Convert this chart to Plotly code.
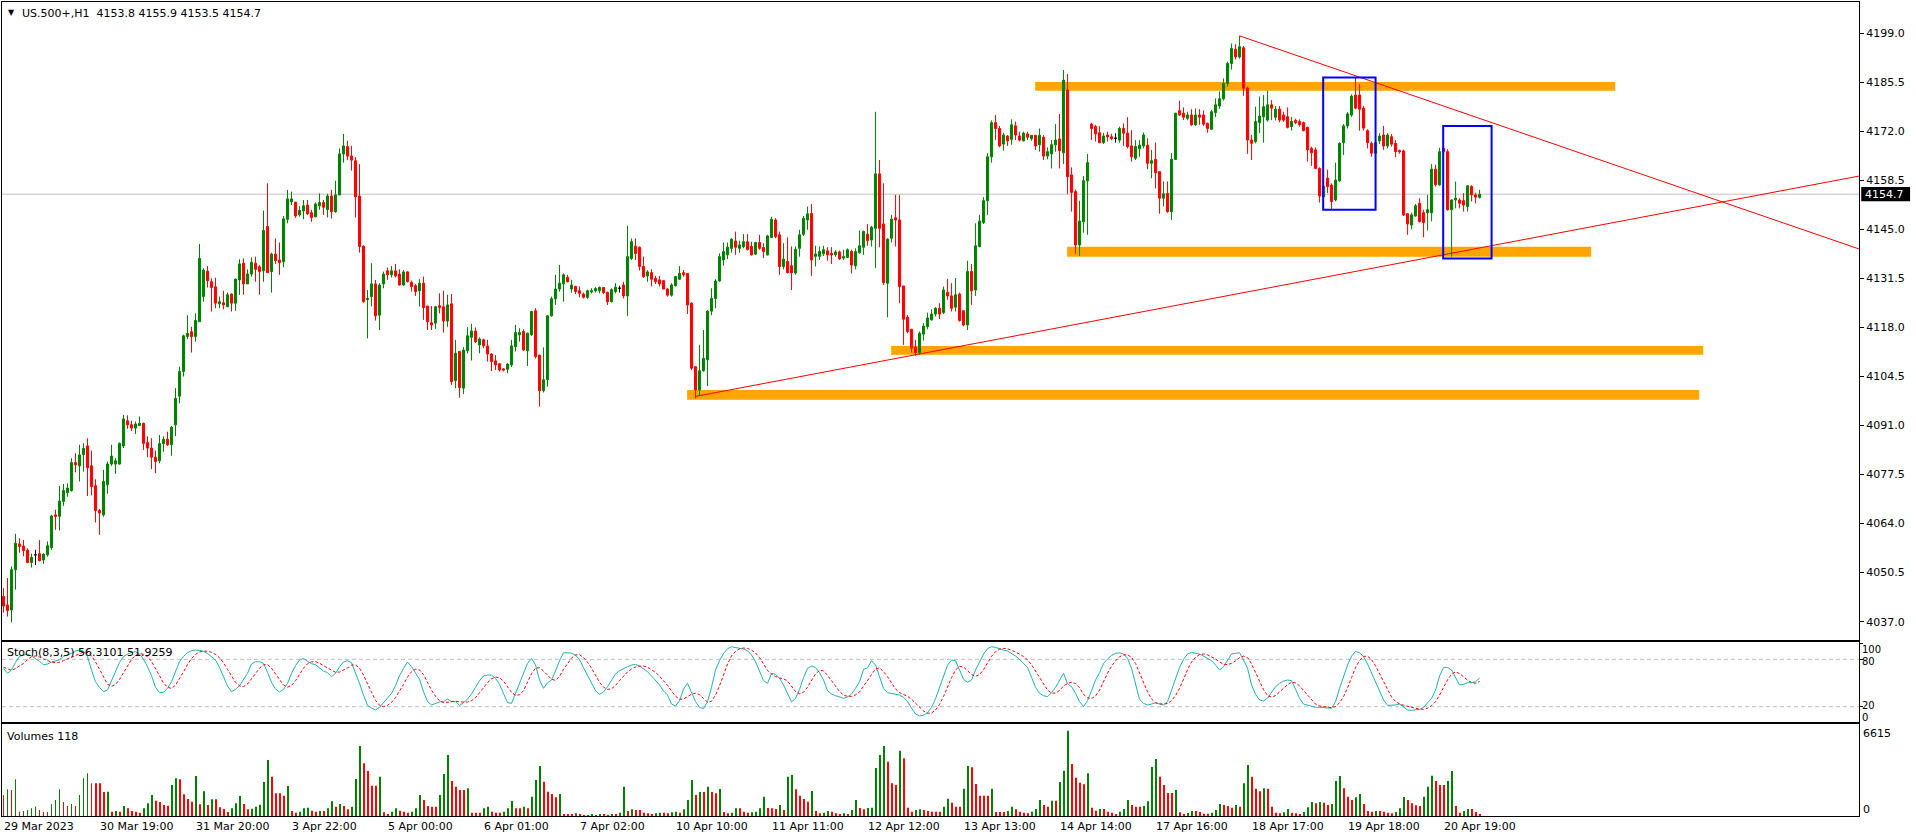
import plotly.graph_objects as go

# H1 bars of US.500+, bar 0 = first visible bar (29 Mar 2023)
opens = [
    4043.9, 4041.6, 4040.2, 4051.3, 4058.4, 4057.8, 4056.7, 4053.3, 4055.4, 4055.7,
    4054.0, 4055.4, 4057.4, 4066.4, 4066.0, 4070.1, 4072.5, 4073.1, 4080.8, 4079.9,
    4083.0, 4085.4, 4079.9, 4074.4, 4067.6, 4066.4, 4074.7, 4080.4, 4080.4, 4080.4,
    4085.4, 4092.3, 4091.2, 4090.3, 4091.0, 4091.6, 4086.3, 4084.8, 4082.3, 4081.3,
    4086.0, 4087.2, 4085.7, 4091.2, 4099.1, 4105.9, 4115.5, 4116.8, 4115.5, 4119.6,
    4126.5, 4133.5, 4130.6, 4129.2, 4124.5, 4124.8, 4123.7, 4127.2, 4124.7, 4131.1,
    4135.7, 4130.0, 4132.7, 4135.7, 4134.7, 4133.6, 4145.8, 4133.4, 4138.2, 4136.6,
    4136.1, 4147.8, 4152.6, 4152.5, 4149.0, 4150.1, 4151.7, 4149.6, 4148.5, 4151.5,
    4152.4, 4150.5, 4154.2, 4149.9, 4154.5, 4165.8, 4167.8, 4165.2, 4163.9, 4154.2,
    4140.4, 4125.7, 4126.5, 4130.0, 4121.4, 4130.0, 4133.6, 4132.5, 4133.6, 4132.7,
    4129.7, 4133.3, 4130.4, 4129.5, 4128.1, 4130.2, 4123.9, 4119.3, 4119.2, 4124.0,
    4123.7, 4119.8, 4124.5, 4103.4, 4111.4, 4101.3, 4111.6, 4115.3, 4117.0, 4113.2,
    4114.6, 4112.9, 4110.7, 4108.8, 4108.0, 4106.6, 4106.5, 4107.7, 4112.7, 4116.0,
    4116.9, 4111.6, 4116.0, 4122.6, 4110.4, 4100.6, 4103.6, 4121.2, 4125.9, 4128.6,
    4130.0, 4131.8, 4128.6, 4129.3, 4128.1, 4127.2, 4126.3, 4127.8, 4128.1, 4128.1,
    4129.0, 4127.6, 4125.1, 4127.9, 4128.8, 4129.7, 4126.7, 4137.0, 4140.4, 4140.1,
    4134.8, 4132.2, 4133.1, 4131.5, 4131.1, 4130.9, 4128.6, 4126.9, 4129.5, 4131.3,
    4133.1, 4132.9, 4124.7, 4107.2, 4100.8, 4106.1, 4109.1, 4122.5, 4126.0, 4130.8,
    4136.6, 4138.0, 4139.8, 4141.8, 4139.8, 4140.3, 4141.6, 4140.3, 4138.2, 4141.4,
    4140.0, 4138.0, 4142.8, 4147.6, 4143.5, 4134.8, 4136.2, 4135.0, 4133.0, 4139.8,
    4143.7, 4147.6, 4149.4, 4137.6, 4137.6, 4138.3, 4139.1, 4138.4, 4138.0, 4138.8,
    4137.1, 4137.3, 4138.9, 4135.0, 4138.6, 4140.1, 4143.7, 4142.1, 4145.3, 4160.3,
    4146.5, 4130.2, 4142.6, 4148.2, 4147.6, 4129.4, 4120.8, 4117.5, 4112.6, 4111.1,
    4116.2, 4118.2, 4120.1, 4121.7, 4123.3, 4122.1, 4127.7, 4126.7, 4123.6, 4127.2,
    4122.6, 4118.7, 4133.4, 4128.3, 4140.3, 4146.9, 4152.9, 4165.0, 4174.4, 4172.8,
    4168.5, 4170.7, 4169.8, 4173.5, 4170.7, 4169.4, 4171.3, 4170.0, 4170.9, 4168.3,
    4170.4, 4165.2, 4165.8, 4168.3, 4169.9, 4166.1, 4183.4, 4160.0, 4155.4, 4140.7,
    4147.1, 4158.4, 4174.0, 4173.3, 4171.6, 4168.9, 4171.0, 4170.5, 4170.1, 4169.6,
    4172.8, 4171.5, 4168.0, 4164.6, 4167.2, 4168.0, 4168.2, 4163.2, 4164.3, 4160.9,
    4153.6, 4154.9, 4149.9, 4164.3, 4177.7, 4177.0, 4175.6, 4176.5, 4173.8, 4176.5,
    4176.5, 4174.2, 4172.6, 4177.2, 4179.0, 4181.0, 4185.2, 4190.7, 4194.6, 4192.5,
    4195.0, 4183.9, 4169.6, 4169.2, 4174.4, 4176.0, 4175.1, 4179.3, 4175.9, 4178.1,
    4176.5, 4176.0, 4173.3, 4175.0, 4174.7, 4174.4, 4173.1, 4167.3, 4166.9, 4161.8,
    4154.0, 4159.1, 4157.2, 4153.1, 4158.4, 4168.9, 4173.5, 4176.5, 4182.0, 4182.0,
    4178.4, 4172.2, 4168.7, 4166.0, 4169.4, 4171.0, 4168.0, 4170.5, 4168.7, 4166.7,
    4166.6, 4149.3, 4146.2, 4148.7, 4152.2, 4149.6, 4149.6, 4149.6, 4161.6, 4157.3,
    4167.3, 4166.4, 4150.4, 4153.1, 4153.1, 4152.9, 4151.3, 4156.8, 4154.5, 4153.8,
]
highs = [
    4046.2, 4049.0, 4052.2, 4061.2, 4060.0, 4059.5, 4057.2, 4055.7, 4056.8, 4059.5,
    4055.8, 4059.1, 4066.4, 4067.8, 4074.4, 4074.9, 4075.1, 4082.0, 4083.4, 4085.7,
    4086.1, 4087.5, 4084.1, 4076.2, 4068.0, 4078.8, 4081.1, 4085.7, 4082.0, 4086.3,
    4093.9, 4093.8, 4092.3, 4092.1, 4093.5, 4091.8, 4088.0, 4087.5, 4084.1, 4088.4,
    4088.0, 4089.3, 4090.9, 4101.3, 4107.2, 4116.0, 4121.4, 4118.2, 4121.9, 4141.0,
    4134.3, 4134.9, 4131.5, 4131.7, 4126.5, 4128.1, 4127.6, 4127.4, 4131.5, 4136.8,
    4137.0, 4134.0, 4137.3, 4137.5, 4135.2, 4150.2, 4157.7, 4138.6, 4142.5, 4141.4,
    4148.7, 4155.9, 4155.4, 4152.6, 4151.4, 4153.1, 4153.1, 4150.4, 4152.4, 4154.9,
    4153.1, 4154.8, 4155.9, 4158.4, 4167.3, 4171.3, 4169.4, 4168.0, 4164.9, 4163.0,
    4140.6, 4128.3, 4135.7, 4131.1, 4130.2, 4133.4, 4134.5, 4134.9, 4135.5, 4134.0,
    4133.8, 4133.5, 4130.9, 4130.0, 4131.3, 4132.0, 4124.0, 4123.9, 4123.9, 4127.4,
    4128.1, 4127.0, 4127.2, 4114.6, 4111.6, 4112.6, 4118.1, 4119.0, 4118.0, 4115.3,
    4114.9, 4114.6, 4110.9, 4110.4, 4108.2, 4106.8, 4108.2, 4114.6, 4118.7, 4117.8,
    4117.5, 4116.6, 4122.6, 4123.3, 4110.5, 4112.5, 4121.4, 4126.5, 4132.5, 4135.2,
    4132.9, 4132.5, 4131.1, 4129.5, 4129.3, 4127.6, 4128.4, 4128.8, 4129.1, 4129.3,
    4129.1, 4127.9, 4128.8, 4130.2, 4129.5, 4130.6, 4146.0, 4142.5, 4142.5, 4140.3,
    4137.5, 4133.8, 4134.0, 4132.2, 4132.2, 4131.1, 4128.8, 4130.2, 4132.2, 4134.9,
    4133.8, 4133.0, 4124.9, 4107.3, 4113.2, 4117.3, 4122.8, 4128.8, 4131.3, 4138.4,
    4141.4, 4141.4, 4142.6, 4144.4, 4141.9, 4143.7, 4143.7, 4141.6, 4141.6, 4143.5,
    4141.2, 4143.5, 4148.5, 4148.1, 4144.4, 4141.2, 4142.8, 4140.3, 4140.3, 4144.9,
    4148.7, 4151.3, 4152.0, 4140.5, 4140.3, 4140.5, 4140.1, 4140.1, 4139.3, 4139.2,
    4139.4, 4139.8, 4139.4, 4139.8, 4144.7, 4144.7, 4146.5, 4146.0, 4177.4, 4164.1,
    4157.7, 4142.6, 4149.0, 4154.5, 4154.5, 4129.5, 4121.5, 4117.6, 4114.6, 4116.9,
    4119.2, 4122.1, 4123.0, 4123.6, 4124.7, 4129.3, 4131.4, 4130.2, 4131.6, 4127.6,
    4122.7, 4136.4, 4135.5, 4146.7, 4149.0, 4153.9, 4166.0, 4175.0, 4176.5, 4173.5,
    4171.6, 4171.0, 4175.3, 4174.7, 4171.9, 4171.9, 4171.9, 4171.0, 4171.0, 4172.8,
    4171.0, 4167.6, 4169.6, 4174.0, 4176.8, 4188.9, 4187.8, 4162.1, 4156.0, 4152.9,
    4159.7, 4165.8, 4174.4, 4173.8, 4173.5, 4171.6, 4171.9, 4171.3, 4171.5, 4173.3,
    4174.2, 4175.9, 4172.4, 4169.6, 4169.6, 4171.7, 4170.1, 4166.9, 4168.9, 4161.0,
    4158.2, 4158.2, 4166.0, 4177.1, 4180.4, 4178.6, 4177.4, 4178.1, 4178.3, 4178.1,
    4177.7, 4174.4, 4177.9, 4181.1, 4183.0, 4186.6, 4191.2, 4196.2, 4196.0, 4198.3,
    4195.5, 4184.3, 4171.0, 4178.8, 4181.6, 4182.0, 4183.2, 4180.6, 4179.0, 4179.0,
    4177.4, 4178.6, 4176.0, 4175.5, 4175.3, 4174.7, 4173.3, 4167.8, 4167.6, 4162.1,
    4157.2, 4161.5, 4157.7, 4163.4, 4169.0, 4174.0, 4177.3, 4182.2, 4186.9, 4185.0,
    4179.0, 4172.6, 4169.2, 4169.6, 4171.5, 4173.5, 4171.5, 4171.3, 4169.6, 4167.0,
    4167.0, 4149.5, 4149.6, 4152.0, 4153.6, 4150.4, 4154.5, 4163.0, 4162.8, 4167.5,
    4168.2, 4167.1, 4153.3, 4158.2, 4153.6, 4155.0, 4157.2, 4157.2, 4155.1, 4155.9,
]
lows = [
    4039.5, 4038.4, 4036.8, 4045.8, 4056.0, 4055.0, 4053.1, 4051.9, 4052.6, 4053.6,
    4052.9, 4054.9, 4056.8, 4062.3, 4062.1, 4068.9, 4071.4, 4072.8, 4078.1, 4075.6,
    4078.3, 4071.6, 4071.8, 4064.3, 4060.9, 4065.9, 4072.2, 4079.9, 4077.7, 4080.2,
    4084.8, 4090.1, 4089.5, 4088.7, 4090.9, 4084.3, 4082.3, 4079.0, 4077.9, 4080.6,
    4083.8, 4085.4, 4082.7, 4088.1, 4097.1, 4104.5, 4114.8, 4111.1, 4114.1, 4119.6,
    4125.1, 4129.0, 4122.4, 4123.3, 4123.3, 4123.0, 4123.6, 4122.4, 4122.6, 4127.0,
    4127.0, 4130.0, 4132.0, 4130.6, 4127.0, 4130.6, 4133.0, 4127.6, 4135.5, 4132.5,
    4134.6, 4146.7, 4151.7, 4148.2, 4148.5, 4147.8, 4149.0, 4147.1, 4148.3, 4150.4,
    4149.0, 4148.3, 4148.0, 4149.6, 4154.4, 4163.4, 4164.1, 4161.2, 4148.3, 4138.6,
    4124.8, 4115.0, 4123.8, 4119.9, 4117.3, 4128.8, 4131.1, 4131.8, 4131.8, 4129.5,
    4129.5, 4130.4, 4127.9, 4126.7, 4123.8, 4120.1, 4117.3, 4117.3, 4117.6, 4121.9,
    4116.6, 4118.2, 4102.2, 4101.3, 4098.7, 4099.7, 4110.9, 4108.9, 4113.7, 4110.9,
    4112.3, 4108.6, 4106.0, 4106.3, 4105.9, 4105.9, 4105.4, 4107.1, 4111.4, 4114.1,
    4111.6, 4107.4, 4115.7, 4109.5, 4096.2, 4100.1, 4101.7, 4121.0, 4124.2, 4127.9,
    4125.1, 4130.4, 4127.6, 4127.2, 4126.3, 4126.0, 4125.8, 4127.4, 4127.6, 4127.4,
    4127.2, 4124.2, 4124.9, 4127.4, 4127.6, 4126.0, 4121.2, 4136.6, 4136.6, 4133.7,
    4131.7, 4130.6, 4129.3, 4130.0, 4129.3, 4128.5, 4126.5, 4126.5, 4129.3, 4131.1,
    4132.0, 4121.7, 4106.3, 4098.5, 4099.1, 4105.8, 4101.9, 4121.4, 4123.3, 4130.6,
    4135.0, 4136.8, 4138.6, 4138.0, 4138.6, 4139.8, 4139.2, 4137.8, 4138.0, 4139.4,
    4137.1, 4137.8, 4142.6, 4142.6, 4132.5, 4134.0, 4132.9, 4128.3, 4132.5, 4137.5,
    4143.2, 4144.9, 4132.2, 4134.8, 4136.6, 4137.7, 4136.4, 4135.5, 4137.5, 4136.6,
    4136.6, 4137.1, 4132.9, 4134.0, 4138.3, 4138.0, 4140.5, 4140.3, 4134.3, 4140.1,
    4129.7, 4120.8, 4141.4, 4140.3, 4124.7, 4113.2, 4116.4, 4111.1, 4110.2, 4110.5,
    4114.4, 4117.5, 4119.9, 4121.0, 4120.3, 4121.7, 4125.6, 4122.4, 4122.4, 4119.6,
    4118.3, 4117.3, 4124.2, 4126.7, 4140.1, 4146.5, 4149.0, 4163.4, 4169.6, 4167.6,
    4166.7, 4168.0, 4168.3, 4169.6, 4169.2, 4169.2, 4169.6, 4169.4, 4166.9, 4166.4,
    4164.1, 4164.3, 4161.8, 4166.4, 4161.8, 4163.0, 4154.8, 4149.9, 4138.3, 4137.7,
    4144.1, 4143.5, 4169.6, 4169.2, 4168.7, 4168.5, 4169.2, 4169.6, 4168.9, 4168.9,
    4168.0, 4167.3, 4163.7, 4164.1, 4165.0, 4167.3, 4161.6, 4159.1, 4156.3, 4149.3,
    4151.3, 4149.6, 4147.6, 4164.1, 4176.2, 4175.1, 4175.1, 4173.5, 4173.5, 4173.8,
    4173.5, 4171.6, 4172.4, 4175.9, 4178.2, 4180.5, 4184.3, 4189.0, 4191.8, 4192.0,
    4181.8, 4165.8, 4164.1, 4168.7, 4171.5, 4168.9, 4174.7, 4175.1, 4175.0, 4174.5,
    4174.6, 4172.8, 4172.2, 4174.0, 4173.3, 4172.0, 4163.7, 4162.5, 4161.6, 4152.4,
    4153.6, 4155.0, 4150.5, 4152.7, 4158.0, 4165.5, 4172.8, 4176.0, 4178.1, 4172.2,
    4172.2, 4167.3, 4165.0, 4165.5, 4168.5, 4166.9, 4167.3, 4167.8, 4164.9, 4165.8,
    4148.7, 4143.5, 4145.0, 4148.5, 4146.9, 4142.8, 4144.7, 4147.2, 4156.8, 4157.0,
    4165.5, 4150.2, 4137.5, 4150.8, 4150.8, 4149.9, 4149.9, 4152.7, 4152.2, 4153.5,
]
closes = [
    4041.3, 4040.1, 4051.3, 4058.6, 4057.7, 4056.6, 4053.3, 4054.7, 4055.4, 4053.8,
    4055.6, 4057.9, 4066.1, 4066.0, 4070.2, 4073.1, 4073.8, 4080.8, 4080.2, 4082.9,
    4084.7, 4079.4, 4074.2, 4067.6, 4066.9, 4075.6, 4080.4, 4082.6, 4081.3, 4086.1,
    4092.8, 4091.2, 4090.3, 4091.4, 4091.6, 4086.1, 4084.8, 4082.3, 4081.1, 4086.0,
    4087.2, 4085.7, 4090.5, 4098.5, 4105.9, 4115.7, 4116.4, 4115.5, 4119.9, 4137.0,
    4133.8, 4130.9, 4129.0, 4124.7, 4125.1, 4124.2, 4127.0, 4124.7, 4131.3, 4135.5,
    4130.0, 4132.7, 4135.9, 4134.0, 4133.4, 4144.7, 4133.1, 4138.2, 4136.4, 4135.9,
    4147.9, 4153.4, 4153.4, 4148.7, 4150.2, 4151.5, 4149.3, 4148.3, 4152.0, 4152.4,
    4151.1, 4154.2, 4149.9, 4154.5, 4165.8, 4168.0, 4165.2, 4164.1, 4154.0, 4140.3,
    4125.1, 4126.0, 4130.0, 4121.2, 4129.7, 4132.7, 4132.5, 4133.6, 4132.2, 4129.7,
    4133.3, 4130.6, 4129.3, 4127.9, 4130.2, 4123.5, 4119.6, 4118.7, 4123.7, 4123.5,
    4119.8, 4124.2, 4103.1, 4110.9, 4101.5, 4111.8, 4115.7, 4117.0, 4114.1, 4114.8,
    4113.0, 4110.7, 4108.6, 4107.7, 4106.3, 4106.3, 4107.9, 4112.9, 4116.6, 4116.6,
    4111.8, 4116.4, 4122.4, 4110.0, 4100.6, 4103.6, 4121.2, 4125.9, 4128.6, 4130.2,
    4132.5, 4130.6, 4129.7, 4127.9, 4127.4, 4126.3, 4128.1, 4128.1, 4128.7, 4129.0,
    4127.6, 4125.1, 4128.4, 4129.1, 4128.8, 4126.7, 4137.5, 4141.6, 4138.4, 4134.8,
    4132.0, 4133.3, 4131.3, 4130.6, 4130.0, 4128.6, 4126.9, 4129.7, 4132.0, 4132.9,
    4132.5, 4124.2, 4106.8, 4100.8, 4106.1, 4109.5, 4122.5, 4126.0, 4130.8, 4137.5,
    4138.9, 4140.1, 4142.3, 4140.1, 4140.7, 4141.6, 4139.5, 4138.0, 4141.4, 4139.8,
    4138.9, 4143.2, 4147.8, 4143.0, 4134.8, 4136.8, 4133.1, 4133.1, 4139.5, 4143.5,
    4148.1, 4149.3, 4136.6, 4138.2, 4138.9, 4139.4, 4138.0, 4138.0, 4138.8, 4136.9,
    4137.5, 4139.4, 4135.2, 4138.9, 4140.5, 4144.4, 4141.9, 4145.6, 4160.3, 4145.3,
    4130.4, 4142.3, 4147.8, 4147.6, 4129.3, 4120.3, 4116.9, 4112.3, 4111.1, 4116.4,
    4118.4, 4120.6, 4121.7, 4123.3, 4121.7, 4128.3, 4126.7, 4123.3, 4127.0, 4119.9,
    4118.7, 4133.4, 4128.1, 4140.5, 4147.3, 4152.9, 4165.0, 4174.4, 4172.8, 4168.0,
    4171.0, 4169.4, 4173.8, 4171.0, 4169.6, 4171.5, 4170.4, 4170.9, 4168.0, 4170.9,
    4165.2, 4166.4, 4168.3, 4169.6, 4166.7, 4186.1, 4159.5, 4155.2, 4140.7, 4147.3,
    4158.4, 4163.4, 4172.8, 4171.3, 4168.9, 4170.7, 4170.5, 4170.0, 4170.1, 4172.8,
    4171.5, 4167.8, 4165.0, 4167.8, 4168.2, 4171.0, 4163.2, 4163.9, 4160.6, 4153.6,
    4154.8, 4149.9, 4164.3, 4177.0, 4176.5, 4175.9, 4176.5, 4173.8, 4176.5, 4175.9,
    4174.0, 4172.8, 4177.4, 4179.3, 4181.0, 4185.2, 4190.7, 4194.8, 4192.5, 4195.3,
    4183.9, 4169.6, 4168.7, 4174.7, 4176.2, 4178.8, 4179.3, 4178.4, 4178.1, 4175.1,
    4175.1, 4173.1, 4174.7, 4174.4, 4173.8, 4172.2, 4166.9, 4166.1, 4161.8, 4154.2,
    4156.8, 4156.8, 4152.7, 4158.6, 4168.7, 4173.5, 4176.8, 4181.7, 4178.4, 4178.1,
    4172.9, 4168.9, 4166.0, 4168.9, 4170.7, 4168.0, 4171.0, 4168.5, 4166.4, 4166.4,
    4149.0, 4146.5, 4149.0, 4151.5, 4147.2, 4146.9, 4150.4, 4161.6, 4157.3, 4166.4,
    4166.4, 4150.4, 4153.1, 4153.6, 4152.2, 4151.7, 4157.0, 4154.5, 4153.9, 4154.7,
]

# Stochastic (8,3,5): main line and signal line
stoch_main = [
    68.6, 62.3, 66.5, 76.2, 83.8, 85.5, 86.7, 84.2, 81.2, 77.4,
    73.2, 74.1, 76.6, 77.9, 79.5, 83.8, 85.5, 87.6, 90.5, 91.8,
    90.5, 83.4, 66.5, 51.7, 44.5, 39.0, 41.2, 52.5, 63.9, 76.2,
    83.4, 86.7, 88.8, 89.7, 86.7, 80.4, 70.7, 59.3, 44.5, 37.8,
    38.2, 43.3, 51.7, 65.6, 77.0, 83.8, 88.4, 90.9, 91.8, 91.4,
    90.1, 87.6, 83.4, 79.1, 69.8, 58.0, 46.2, 39.0, 42.0, 46.6,
    53.8, 62.3, 74.1, 77.0, 77.0, 74.9, 63.5, 50.9, 42.4, 38.6,
    42.0, 49.6, 62.3, 72.0, 79.1, 81.2, 77.4, 74.5, 73.2, 69.4,
    65.2, 63.1, 58.0, 62.3, 70.7, 76.6, 78.3, 75.8, 63.1, 49.6,
    34.4, 21.7, 18.4, 15.8, 19.2, 25.1, 29.8, 36.9, 46.6, 59.3,
    68.6, 76.6, 70.7, 62.3, 54.7, 39.0, 26.4, 22.2, 24.3, 26.0,
    26.4, 29.8, 26.4, 26.4, 21.7, 25.1, 29.8, 36.1, 44.5, 53.0,
    58.9, 60.1, 60.1, 55.9, 48.3, 36.9, 25.1, 24.3, 36.9, 51.7,
    64.4, 74.9, 81.2, 72.8, 53.8, 43.3, 50.4, 53.8, 65.6, 78.3,
    88.4, 88.4, 88.0, 85.0, 80.0, 69.4, 59.7, 49.6, 40.3, 35.7,
    38.6, 45.4, 53.8, 61.4, 65.6, 68.6, 70.7, 72.8, 73.6, 71.5,
    68.2, 64.4, 58.9, 53.8, 47.5, 39.9, 34.8, 23.4, 20.9, 27.7,
    42.4, 49.6, 39.0, 26.4, 19.2, 17.5, 26.4, 44.5, 66.5, 78.3,
    87.6, 93.5, 96.0, 95.2, 94.3, 93.0, 90.9, 85.5, 77.0, 64.4,
    53.0, 49.6, 62.3, 61.0, 55.9, 47.5, 36.1, 26.0, 30.6, 42.0,
    56.8, 68.6, 71.5, 69.8, 63.1, 53.8, 40.3, 36.1, 34.0, 32.3,
    30.6, 32.3, 36.1, 43.3, 51.7, 67.3, 69.4, 78.3, 72.8, 58.0,
    43.3, 37.8, 36.9, 36.1, 34.8, 31.9, 26.4, 18.0, 10.8, 8.2,
    9.1, 12.5, 19.2, 30.2, 43.7, 58.9, 72.8, 79.1, 78.3, 66.5,
    54.7, 50.9, 53.8, 66.5, 77.0, 86.7, 93.5, 96.0, 95.2, 93.0,
    91.8, 90.5, 87.6, 84.2, 80.0, 74.9, 69.8, 57.2, 44.5, 36.9,
    34.0, 32.7, 37.8, 44.5, 53.8, 62.3, 48.8, 45.4, 36.9, 26.4,
    20.1, 27.7, 40.3, 53.8, 63.1, 74.9, 80.4, 85.0, 87.6, 88.4,
    86.7, 81.2, 68.6, 49.6, 29.3, 24.3, 22.2, 23.4, 25.1, 23.4,
    22.2, 26.4, 41.2, 57.2, 69.8, 80.0, 86.7, 88.8, 87.6, 86.7,
    84.2, 80.8, 78.3, 72.8, 66.5, 70.7, 78.3, 86.7, 87.6, 88.4,
    79.1, 68.6, 47.5, 35.7, 28.5, 27.2, 31.0, 38.6, 45.4, 49.6,
    52.5, 53.8, 53.0, 42.0, 30.6, 23.4, 22.2, 20.5, 19.2, 19.2,
    19.2, 18.4, 18.0, 26.4, 43.3, 58.0, 72.8, 84.2, 90.1, 88.4,
    83.4, 74.1, 62.3, 50.4, 38.6, 28.5, 21.7, 21.7, 22.2, 23.4,
    20.1, 15.8, 15.4, 15.8, 16.7, 19.2, 24.3, 30.6, 41.2, 58.9,
    69.8, 69.8, 66.5, 55.9, 47.5, 48.3, 50.4, 50.4, 51.7, 56.3,
]
stoch_signal = [
    70.0, 67.5, 66.0, 68.4, 71.5, 74.9, 79.7, 83.3, 84.3, 83.0,
    80.5, 78.0, 76.5, 75.8, 76.3, 78.4, 80.7, 82.9, 85.4, 87.8,
    89.2, 88.8, 84.5, 76.8, 67.3, 57.0, 48.6, 45.8, 48.2, 54.6,
    63.4, 72.5, 79.8, 85.0, 87.1, 86.5, 83.3, 77.4, 68.3, 58.5,
    50.1, 44.6, 43.1, 47.3, 55.2, 64.3, 73.3, 81.1, 86.4, 89.3,
    90.5, 90.4, 88.9, 86.3, 82.0, 75.6, 67.3, 58.4, 51.0, 46.4,
    45.5, 48.7, 55.8, 62.8, 68.8, 73.1, 73.3, 68.7, 61.7, 54.1,
    47.5, 44.7, 47.0, 52.9, 61.0, 68.8, 74.4, 76.8, 77.1, 75.1,
    71.9, 69.1, 65.8, 63.6, 63.9, 66.1, 69.2, 72.7, 72.9, 68.7,
    60.2, 48.9, 37.4, 28.0, 21.9, 20.0, 21.7, 25.4, 31.5, 39.5,
    48.2, 57.6, 64.4, 67.5, 66.6, 60.7, 50.6, 40.9, 33.3, 27.6,
    25.1, 25.7, 26.6, 27.0, 26.1, 25.9, 25.9, 27.8, 31.4, 37.7,
    44.5, 50.5, 55.3, 57.6, 56.7, 52.3, 45.3, 38.1, 34.3, 35.0,
    40.5, 50.4, 61.8, 69.0, 69.4, 65.2, 60.3, 54.8, 53.4, 58.3,
    67.3, 74.9, 81.7, 85.6, 86.0, 82.2, 76.4, 68.7, 59.8, 50.9,
    44.8, 41.9, 42.8, 47.0, 53.0, 59.0, 64.0, 67.8, 70.3, 71.4,
    71.4, 70.1, 67.3, 63.4, 58.6, 52.9, 47.0, 39.9, 33.3, 29.3,
    29.8, 32.8, 35.9, 37.0, 35.3, 30.3, 25.7, 26.8, 34.8, 46.6,
    60.7, 74.1, 84.4, 90.1, 93.3, 94.4, 93.9, 91.8, 88.1, 82.2,
    74.2, 65.9, 61.3, 58.1, 56.4, 55.3, 52.6, 45.3, 39.2, 36.4,
    38.3, 44.8, 53.9, 61.7, 66.0, 65.4, 59.7, 52.6, 45.5, 39.3,
    34.7, 33.1, 33.1, 34.9, 38.8, 46.1, 53.6, 62.0, 67.9, 69.2,
    64.4, 58.0, 49.8, 42.4, 37.8, 35.5, 33.2, 29.4, 24.4, 19.1,
    14.5, 11.7, 12.0, 15.8, 22.9, 32.9, 45.0, 56.9, 66.6, 71.1,
    70.3, 65.9, 60.8, 58.5, 60.6, 67.0, 75.5, 83.9, 89.7, 92.9,
    93.9, 93.3, 91.6, 89.4, 86.8, 83.4, 79.3, 73.2, 65.3, 56.7,
    48.5, 41.1, 37.2, 37.2, 40.6, 46.2, 49.4, 51.0, 49.4, 44.0,
    35.5, 31.3, 30.3, 33.7, 41.0, 52.0, 62.5, 71.4, 78.2, 83.3,
    85.6, 85.8, 82.5, 74.9, 63.1, 50.6, 38.8, 29.8, 24.9, 23.7,
    23.3, 24.1, 27.7, 34.1, 43.4, 54.9, 67.0, 76.5, 82.6, 86.0,
    86.8, 85.6, 83.5, 80.6, 76.5, 73.8, 73.3, 75.0, 78.0, 82.3,
    84.0, 82.1, 74.2, 63.9, 51.9, 41.5, 34.0, 32.2, 34.1, 38.4,
    43.4, 48.0, 50.9, 50.2, 46.4, 40.6, 34.2, 27.7, 23.2, 20.9,
    20.1, 19.3, 18.8, 20.2, 25.1, 32.8, 43.7, 56.9, 69.7, 78.7,
    83.8, 84.0, 79.7, 71.7, 61.8, 50.8, 40.3, 32.2, 26.5, 23.5,
    21.8, 20.6, 19.4, 18.1, 16.8, 16.6, 18.3, 21.3, 26.4, 34.8,
    45.0, 54.1, 61.2, 64.2, 61.9, 57.6, 53.7, 50.5, 49.7, 51.9,
]

# tick volumes
volumes = [
    1628, 2067, 2016, 2842, 336, 388, 465, 594, 724, 465,
    336, 310, 930, 1240, 2067, 1085, 775, 930, 775, 1628,
    2920, 3308, 2532, 2532, 2532, 1860, 1886, 336, 388, 336,
    775, 594, 388, 336, 258, 594, 982, 1628, 1189, 1085,
    853, 801, 2403, 2920, 2842, 1680, 1318, 1111, 3101, 904,
    1912, 853, 1292, 1292, 672, 543, 310, 594, 982, 1550,
    930, 517, 568, 724, 879, 2636, 4341, 3049, 1757, 1757,
    1576, 2326, 388, 258, 336, 594, 646, 413, 336, 388,
    388, 594, 1137, 724, 930, 775, 517, 724, 2868, 5426,
    4083, 3488, 2351, 2351, 3049, 284, 155, 336, 594, 413,
    336, 258, 336, 594, 1628, 1240, 775, 724, 724, 1628,
    3256, 4729, 2713, 2274, 2016, 2016, 2145, 258, 258, 258,
    594, 724, 336, 258, 258, 336, 594, 1163, 594, 594,
    724, 594, 1499, 2791, 3876, 2662, 1886, 1705, 1447, 1705,
    155, 155, 129, 207, 129, 52, 52, 78, 26, 78,
    78, 52, 78, 78, 258, 2274, 388, 517, 465, 465,
    258, 207, 129, 207, 258, 258, 207, 284, 336, 258,
    517, 1240, 2791, 1628, 1860, 1860, 2274, 1860, 1757, 2093,
    310, 207, 258, 594, 594, 336, 258, 284, 336, 594,
    1499, 620, 594, 543, 853, 465, 3049, 3178, 2067, 1576,
    1318, 1111, 1938, 388, 207, 258, 388, 336, 207, 155,
    207, 155, 465, 1240, 620, 517, 620, 646, 3721, 4729,
    5426, 4212, 2532, 2403, 5065, 4470, 646, 336, 465, 517,
    465, 388, 336, 336, 336, 724, 1344, 1034, 724, 724,
    2119, 3876, 3773, 2481, 1576, 1576, 1576, 2119, 310, 310,
    310, 388, 724, 517, 336, 258, 207, 336, 543, 1240,
    853, 724, 1189, 1189, 2636, 3514, 6615, 4031, 2972, 2584,
    2455, 3308, 646, 413, 543, 543, 336, 258, 155, 336,
    543, 1240, 853, 724, 724, 775, 1137, 3798, 4419, 3049,
    2403, 1783, 1783, 2016, 284, 155, 233, 388, 388, 310,
    181, 181, 258, 465, 930, 853, 775, 646, 853, 724,
    2532, 3954, 3049, 2119, 1912, 2145, 2119, 724, 258, 207,
    284, 543, 258, 207, 155, 310, 672, 1085, 982, 1085,
    1034, 853, 930, 2713, 3101, 2145, 1499, 1240, 1447, 1705,
    930, 388, 336, 388, 388, 336, 258, 207, 310, 594,
    1473, 1240, 982, 827, 775, 1499, 2274, 3127, 2713, 2403,
    2403, 2713, 3488, 775, 258, 388, 543, 543, 310, 118,
]

date_ticks = [0, 24, 48, 72, 96, 120, 144, 168, 192, 216, 240, 264, 288, 312, 336, 360]
date_labels = ["29 Mar 2023", "30 Mar 19:00", "31 Mar 20:00", "3 Apr 22:00",
               "5 Apr 00:00", "6 Apr 01:00", "7 Apr 02:00", "10 Apr 10:00",
               "11 Apr 11:00", "12 Apr 12:00", "13 Apr 13:00", "14 Apr 14:00",
               "17 Apr 16:00", "18 Apr 17:00", "19 Apr 18:00", "20 Apr 19:00"]
price_ticks = [4037.0, 4050.5, 4064.0, 4077.5, 4091.0, 4104.5, 4118.0,
               4131.5, 4145.0, 4158.5, 4172.0, 4185.5, 4199.0]
last_price = 4154.7

# drawn objects (bar index / price)
zone_start = [257.9, 265.9, 221.9, 170.9]
zone_end = [402.9, 396.9, 424.9, 423.9]
zone_low = [4183.2, 4137.5, 4110.5, 4098.1]
zone_high = [4185.6, 4140.2, 4112.9, 4100.8]
box_start = [329.9, 359.9]
box_end = [343.0, 372.0]
box_low = [4150.4, 4137.0]
box_high = [4186.8, 4173.5]
support_x = [172.9, 463.9]
support_y = [4099.0, 4159.7]
resist_x = [309.0, 463.9]
resist_y = [4198.3, 4139.6]

bars = list(range(len(closes)))
FONT = "DejaVu Sans"
GREEN = "#008000"
RED = "#ff0000"

fig = go.Figure()

normal = [i for i in bars if opens[i] != closes[i]]
doji = [i for i in bars if opens[i] == closes[i]]

fig.add_trace(go.Candlestick(
    x=normal,
    open=[opens[i] for i in normal], high=[highs[i] for i in normal],
    low=[lows[i] for i in normal], close=[closes[i] for i in normal],
    increasing=dict(line=dict(color=GREEN, width=1), fillcolor=GREEN),
    decreasing=dict(line=dict(color=RED, width=1), fillcolor=RED),
    whiskerwidth=0, xaxis="x", yaxis="y", hoverinfo="skip",
))
fig.add_trace(go.Candlestick(
    x=doji,
    open=[opens[i] for i in doji], high=[highs[i] for i in doji],
    low=[lows[i] for i in doji], close=[closes[i] for i in doji],
    increasing=dict(line=dict(color="black", width=1), fillcolor="black"),
    decreasing=dict(line=dict(color="black", width=1), fillcolor="black"),
    whiskerwidth=0, xaxis="x", yaxis="y", hoverinfo="skip",
))

# trend lines
fig.add_trace(go.Scatter(x=support_x, y=support_y, mode="lines",
                         line=dict(color=RED, width=1), xaxis="x", yaxis="y"))
fig.add_trace(go.Scatter(x=resist_x, y=resist_y, mode="lines",
                         line=dict(color=RED, width=1), xaxis="x", yaxis="y"))

# stochastic
fig.add_trace(go.Scatter(x=bars, y=stoch_main, mode="lines",
                         line=dict(color="#20b2aa", width=1), xaxis="x2", yaxis="y2"))
fig.add_trace(go.Scatter(x=bars, y=stoch_signal, mode="lines",
                         line=dict(color=RED, width=1, dash="3px,2px"), xaxis="x2", yaxis="y2"))

# volumes: green when above previous bar, red otherwise
vol_colors = [RED] + [GREEN if volumes[i] > volumes[i - 1] else RED for i in bars[1:]]
fig.add_trace(go.Bar(x=bars, y=volumes, width=0.25, marker=dict(color=vol_colors, line=dict(width=0)),
                     xaxis="x3", yaxis="y3", hoverinfo="skip"))

shapes = []
for x0, x1, y0, y1 in zip(zone_start, zone_end, zone_low, zone_high):
    shapes.append(dict(type="rect", xref="x", yref="y", x0=x0, x1=x1, y0=y0, y1=y1,
                       fillcolor="#ffa500", line=dict(width=0), layer="below"))
for x0, x1, y0, y1 in zip(box_start, box_end, box_low, box_high):
    shapes.append(dict(type="rect", xref="x", yref="y", x0=x0, x1=x1, y0=y0, y1=y1,
                       line=dict(color="#0000ff", width=2), layer="above"))
shapes.append(dict(type="line", xref="x domain", yref="y", x0=0, x1=1, y0=last_price, y1=last_price,
                   line=dict(color="#c0c0c0", width=1), layer="below"))
for lvl in (20, 80):
    shapes.append(dict(type="line", xref="x2 domain", yref="y2", x0=0, x1=1, y0=lvl, y1=lvl,
                       line=dict(color="#c0c0c0", width=1, dash="4px,3px"), layer="below"))
# black box behind last price label
shapes.append(dict(type="rect", xref="paper", yref="y", x0=1.0012, x1=1.0275,
                   y0=last_price - 1.95, y1=last_price + 1.95,
                   fillcolor="black", line=dict(width=0)))

txt = dict(family=FONT, size=11, color="black")
small = dict(family=FONT, size=10, color="black")
annotations = [
    dict(text="\u25bc", xref="paper", yref="paper", x=0, y=1, xanchor="left", yanchor="middle",
         xshift=4, yshift=-10, showarrow=False, font=dict(family=FONT, size=8, color="black")),
    dict(text="US.500+,H1  4153.8 4155.9 4153.5 4154.7", xref="paper", yref="paper", x=0, y=1,
         xanchor="left", yanchor="middle", xshift=18, yshift=-11, showarrow=False, font=txt),
    dict(text="Stoch(8,3,5) 56.3101 51.9259", xref="paper", yref="y2 domain", x=0, y=1,
         xanchor="left", yanchor="middle", xshift=3, yshift=-11, showarrow=False, font=txt),
    dict(text="Volumes 118", xref="paper", yref="y3 domain", x=0, y=1,
         xanchor="left", yanchor="middle", xshift=3, yshift=-12, showarrow=False, font=txt),
    dict(text="4154.7", xref="paper", yref="y", x=1, y=last_price, xanchor="left", yanchor="middle",
         xshift=4, showarrow=False, font=dict(family=FONT, size=11, color="white")),
]
# stochastic scale labels, packed tightly as the terminal draws them
for label, val in (("100", 93.1), ("80", 77.9), ("20", 21.7), ("0", 6.5)):
    annotations.append(dict(text=label, xref="paper", yref="y2", x=1, y=val, xanchor="left",
                            yanchor="middle", xshift=2, borderpad=0, showarrow=False, font=small))
for label, val in (("6615", 6398), ("0", 543)):
    annotations.append(dict(text=label, xref="paper", yref="y3", x=1, y=val, xanchor="left",
                            yanchor="middle", xshift=2, showarrow=False, font=txt))

x_range = [-0.375, 463.85]
frame = dict(showline=True, linecolor="black", linewidth=1, mirror=True, showgrid=False, zeroline=False)

fig.update_layout(
    width=1916, height=840,
    margin=dict(l=2, r=57, t=2, b=24),
    paper_bgcolor="white", plot_bgcolor="white",
    showlegend=False, hovermode=False, boxgap=0.25,
    font=dict(family=FONT, size=11, color="black"),
    xaxis=dict(domain=[0, 1], anchor="y", range=x_range, showticklabels=False, ticks="",
               rangeslider=dict(visible=False), **frame),
    xaxis2=dict(domain=[0, 1], anchor="y2", range=x_range, showticklabels=False, ticks="", **frame),
    xaxis3=dict(domain=[0, 1], anchor="y3", range=x_range, tickvals=date_ticks, ticktext=date_labels,
                ticks="", ticklabelposition="outside right", tickfont=txt, **frame),
    yaxis=dict(domain=[0.21622, 1], anchor="x", side="right", range=[4031.95, 4207.62],
               tickvals=price_ticks, ticktext=[f"{v:.1f}" for v in price_ticks],
               ticks="outside", ticklen=4, tickcolor="black", tickfont=txt, automargin=False, **frame),
    yaxis2=dict(domain=[0.11548, 0.21376], anchor="x2", side="right", range=[0.6, 102.0],
                tickvals=[0, 20, 80, 100], showticklabels=False, ticks="outside", ticklen=3,
                tickcolor="black", automargin=False, **frame),
    yaxis3=dict(domain=[0, 0.11302], anchor="x3", side="right", range=[0, 7135],
                showticklabels=False, ticks="", automargin=False, **frame),
    shapes=shapes,
    annotations=annotations,
)

# drop the default page margin so the 1916x840 figure fills the window exactly
fig.write_html("out.html", config={"displayModeBar": False},
               post_script="document.body.style.margin='0';document.body.style.overflow='hidden';")
